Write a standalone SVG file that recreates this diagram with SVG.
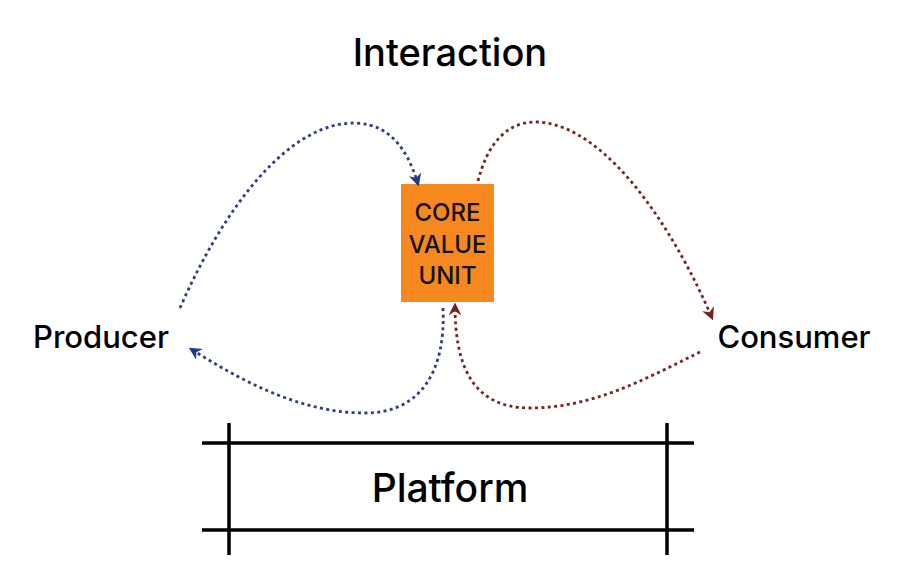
<svg xmlns="http://www.w3.org/2000/svg" width="900" height="584" viewBox="0 0 900 584">
<style>
.lbl{font-family:Inter,"Open Sans","Liberation Sans",sans-serif;fill:#000;text-anchor:middle;font-weight:500}
.core{font-family:Inter,"Open Sans","Liberation Sans",sans-serif;fill:#111;text-anchor:middle;font-size:24px;font-weight:500}
.blue{fill:none;stroke:#2E3F7C;stroke-width:2.8;stroke-dasharray:3 3.4}
.red{fill:none;stroke:#7A2525;stroke-width:2.8;stroke-dasharray:3 3.4}
.bar{stroke:#000;stroke-width:3.5;stroke-linecap:butt}
</style>
<defs>
<marker id="ab" viewBox="0 0 10 10" refX="8" refY="5" markerWidth="4.5" markerHeight="4.5" orient="auto" markerUnits="strokeWidth"><path d="M0,0 L10,5 L0,10 L3,5 Z" fill="#1F3A8A"/></marker>
<marker id="ar" viewBox="0 0 10 10" refX="8" refY="5" markerWidth="4.5" markerHeight="4.5" orient="auto" markerUnits="strokeWidth"><path d="M0,0 L10,5 L0,10 L3,5 Z" fill="#7A1E1E"/></marker>
</defs>
<rect width="900" height="584" fill="#fff"/>
<g id="title"><text class="lbl" x="450" y="66" font-size="38">Interaction</text></g>
<g id="core">
<rect x="401" y="184" width="93" height="118" fill="#F7881F"/>
<text class="core" x="447.5" y="221">CORE</text>
<text class="core" x="447.5" y="253">VALUE</text>
<text class="core" x="447.5" y="284">UNIT</text>
</g>
<g id="producer"><text class="lbl" x="101" y="348" font-size="31">Producer</text></g>
<g id="consumer"><text class="lbl" x="794" y="348" font-size="31">Consumer</text></g>
<g id="platform">
<line class="bar" x1="202" y1="443" x2="694" y2="443"/>
<line class="bar" x1="202" y1="530" x2="694" y2="530"/>
<line class="bar" x1="229" y1="423" x2="229" y2="555"/>
<line class="bar" x1="667" y1="423" x2="667" y2="555"/>
<text class="lbl" x="450" y="502" font-size="39">Platform</text>
</g>
<g id="connectors">
<path class="blue" d="M180,308 C225,205 290,122 355,123 C395,124 410,158 418,184" marker-end="url(#ab)"/>
<path class="red" d="M478,181 C488,142 508,121 538,122 C610,126 678,238 712,318" marker-end="url(#ar)"/>
<path class="blue" d="M443,308 C446,372 420,413 365,413 C300,413 240,380 191,349" marker-end="url(#ab)"/>
<path class="red" d="M700,352 C640,382 590,408 530,408 C470,408 455,362 455,305" marker-end="url(#ar)"/>
</g>
</svg>
